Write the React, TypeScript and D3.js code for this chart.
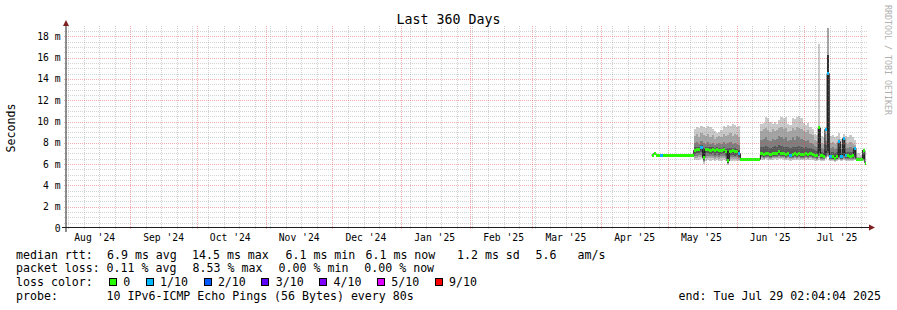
import React from "react";
import * as d3 from "d3";

const WIDTH = 897;
const HEIGHT = 310;
const X0 = 66, X1 = 866, Y0 = 228, Y1 = 28;

const TITLE = "Last 360 Days";
const Y_LABEL = "Seconds";
const WATERMARK = "RRDTOOL / TOBI OETIKER";

const RANGE_START = new Date(2024, 7, 3, 2, 4, 4);
const RANGE_END = new Date(2025, 6, 29, 2, 4, 4);
const Y_TOP = 18.78;
const Y_TICKS = [0, 2, 4, 6, 8, 10, 12, 14, 16, 18];
const FIRST_SAMPLE = new Date(2025, 3, 23, 13, 35, 0);

// daily median rtt (ms), from Apr 23 2025
const median = [
  6.85, 7.0, 6.85, 6.8, 6.8, 6.8, 6.8, 6.8, 6.8, 6.8,
  6.8, 6.8, 6.8, 6.8, 6.8, 6.8, 6.8, 6.8, 6.8,
  7.3, 7.35, 7.4, 7.55, 6.6, 7.4, 7.35, 7.3, 7.4, 7.3, 7.35,
  7.25, 7.3, 7.35, 7.2, 6.3, 7.2, 7.25, 7.15, 7.2, 7.0,
  6.45, 6.45, 6.45, 6.45, 6.45, 6.45, 6.45, 6.45, 6.45,
  6.95, 6.9, 7.0, 6.95, 6.9, 6.95, 7.0, 6.95, 7.15, 7.0,
  6.95, 6.9, 6.95, 6.85, 6.9, 6.95, 6.9, 6.95, 6.9, 6.9,
  6.95, 6.9, 6.95, 6.9, 6.85, 6.8,
  9.4, 6.8, 6.75, 9.26, 14.5,
  6.7, 6.7, 6.55, 6.7, 8.1, 6.7, 8.4, 6.8, 6.8, 6.75,
  6.8, 7.5, 6.45, 6.45, 6.45, 7.3, 6.1,
];

// lost pings out of 10, per day
const lossCount = [
  0, 0, 0, 0, 1, 0, 0, 0, 0, 0,
  0, 0, 0, 0, 0, 0, 0, 0, 0,
  0, 0, 0, 1, 0, 0, 0, 0, 0, 0, 0,
  0, 0, 0, 0, 0, 0, 0, 0, 0, 1,
  0, 0, 0, 0, 0, 0, 0, 0, 0,
  0, 0, 0, 0, 0, 0, 0, 0, 0, 0,
  0, 0, 0, 1, 0, 0, 0, 0, 0, 0,
  0, 0, 0, 0, 0, 0,
  0, 0, 0, 1, 1,
  1, 0, 0, 0, 1, 1, 1, 1, 0, 0,
  0, 1, 0, 0, 0, 0, 0,
];

// smoke segment A: sorted pings, days 19..39
const SEG_A_FIRST = 19;
const p10A = [9.3, 9.5, 9.4, 9.6, 9.5, 9.4, 9.6, 9.5, 9.3, 9.1, 8.9, 9.0, 9.2, 9.6, 9.5, 9.7, 9.6, 9.8, 9.7, 9.5, 9.6];
const p9A = [8.6, 8.8, 8.5, 8.9, 8.7, 8.6, 8.8, 8.5, 8.7, 8.4, 8.5, 8.6, 8.5, 8.8, 8.6, 8.7, 8.9, 8.6, 8.8, 8.7, 8.5];
const p8A = [8.0, 8.1, 7.9, 8.2, 8.0, 7.9, 8.1, 7.9, 8.0, 7.8, 7.9, 8.0, 7.9, 8.1, 7.9, 8.0, 8.1, 7.9, 8.0, 7.9, 7.8];
const p7A = [7.6, 7.65, 7.65, 7.8, 7.5, 7.65, 7.65, 7.6, 7.65, 7.55, 7.6, 7.55, 7.55, 7.6, 7.45, 7.5, 7.5, 7.5, 7.5, 7.45, 7.35];
const p6A = [7.4, 7.45, 7.5, 7.65, 7.2, 7.5, 7.45, 7.4, 7.5, 7.4, 7.45, 7.35, 7.4, 7.45, 7.3, 7.2, 7.3, 7.35, 7.25, 7.3, 7.15];
const p5A = [7.15, 7.2, 7.25, 7.4, 6.5, 7.25, 7.2, 7.15, 7.25, 7.15, 7.2, 7.1, 7.15, 7.2, 7.05, 6.2, 7.05, 7.1, 7.0, 7.05, 6.85];
const p4A = [6.95, 7.0, 7.05, 7.1, 6.4, 7.0, 7.0, 6.95, 7.0, 6.9, 7.0, 6.9, 6.95, 7.0, 6.85, 6.15, 6.85, 6.9, 6.8, 6.85, 6.7];
const p3A = [6.75, 6.8, 6.85, 6.9, 6.3, 6.8, 6.8, 6.75, 6.8, 6.7, 6.8, 6.7, 6.75, 6.8, 6.7, 6.1, 6.7, 6.7, 6.65, 6.7, 6.55];
const p2A = [6.6, 6.6, 6.65, 6.7, 6.2, 6.6, 6.6, 6.55, 6.6, 6.5, 6.6, 6.5, 6.55, 6.6, 6.5, 6.05, 6.5, 6.5, 6.45, 6.5, 6.4];
const p1A = [6.4, 6.35, 6.4, 6.45, 6.0, 6.3, 6.35, 6.3, 6.4, 6.3, 6.35, 6.3, 6.3, 6.35, 6.3, 5.95, 6.3, 6.25, 6.3, 6.3, 6.25];

// smoke segment C: sorted pings, days 49..96
const SEG_C_FIRST = 49;
const p10C = [
  9.8, 9.9, 10.4, 10.3, 10.0, 9.8, 10.0, 9.8, 10.1, 10.4,
  10.3, 10.4, 9.8, 9.7, 10.3, 10.2, 10.4, 10.5, 10.3, 9.9,
  9.7, 9.9, 9.5, 9.3, 8.8, 8.7,
  17.3, 8.6, 8.5, 9.5, 19.0,
  8.6, 8.7, 8.5, 8.6, 8.9, 8.4, 8.8, 8.6, 8.5, 8.7,
  8.5, 8.3, 7.0, 7.0, 6.9, 7.4, 6.3,
];
const p9C = [
  9.1, 9.3, 9.4, 9.2, 9.0, 9.3, 9.1, 9.2, 9.4, 9.5,
  9.3, 9.4, 9.0, 9.1, 9.4, 9.2, 9.5, 9.4, 9.3, 9.1,
  9.0, 9.2, 8.8, 8.7, 8.3, 8.2,
  9.6, 8.0, 7.9, 8.8, 19.0,
  8.0, 8.1, 7.9, 8.0, 8.4, 7.9, 8.5, 8.0, 7.9, 8.1,
  7.9, 7.8, 6.7, 6.7, 6.7, 7.1, 6.25,
];
const p8C = [
  8.3, 8.4, 8.5, 8.3, 8.2, 8.4, 8.3, 8.4, 8.6, 8.5,
  8.4, 8.5, 8.2, 8.3, 8.5, 8.3, 8.6, 8.5, 8.4, 8.3,
  8.2, 8.3, 8.0, 7.9, 7.7, 7.6,
  9.5, 7.5, 7.4, 8.2, 16.2,
  7.5, 7.6, 7.4, 7.5, 8.2, 7.4, 8.3, 7.5, 7.5, 7.6,
  7.4, 7.6, 6.6, 6.6, 6.6, 7.0, 6.2,
];
const p7C = [
  7.6, 7.65, 7.7, 7.6, 7.55, 7.6, 7.7, 7.6, 7.8, 7.7,
  7.65, 7.6, 7.6, 7.55, 7.6, 7.65, 7.6, 7.7, 7.6, 7.55,
  7.6, 7.55, 7.5, 7.45, 7.3, 7.2,
  9.45, 7.1, 7.0, 7.8, 16.2,
  7.1, 7.1, 7.0, 7.1, 8.1, 7.0, 8.3, 7.15, 7.1, 7.1,
  7.1, 7.55, 6.55, 6.55, 6.55, 7.0, 6.2,
];
const p6C = [
  7.05, 7.0, 7.1, 7.05, 7.0, 7.05, 7.1, 7.05, 7.25, 7.1,
  7.05, 7.0, 7.05, 6.95, 7.0, 7.05, 7.0, 7.05, 7.0, 7.0,
  7.05, 7.0, 7.05, 7.0, 6.95, 6.9,
  9.4, 6.9, 6.85, 7.2, 16.2,
  6.8, 6.8, 6.65, 6.8, 7.6, 6.8, 7.8, 6.9, 6.9, 6.85,
  6.9, 7.3, 6.5, 6.5, 6.5, 6.9, 6.15,
];
const p5C = [
  6.85, 6.8, 6.9, 6.85, 6.8, 6.85, 6.9, 6.85, 7.05, 6.9,
  6.85, 6.8, 6.85, 6.75, 6.8, 6.85, 6.8, 6.85, 6.8, 6.8,
  6.85, 6.8, 6.85, 6.8, 6.75, 6.7,
  7.2, 6.7, 6.65, 7.0, 7.2,
  6.6, 6.6, 6.45, 6.6, 6.9, 6.6, 7.0, 6.7, 6.7, 6.65,
  6.7, 6.9, 6.4, 6.4, 6.4, 6.5, 6.1,
];
const p4C = [
  6.75, 6.7, 6.8, 6.75, 6.7, 6.75, 6.8, 6.75, 6.85, 6.8,
  6.75, 6.7, 6.75, 6.65, 6.7, 6.75, 6.7, 6.75, 6.7, 6.7,
  6.75, 6.7, 6.75, 6.7, 6.65, 6.6,
  7.0, 6.6, 6.55, 6.8, 7.0,
  6.5, 6.5, 6.4, 6.5, 6.7, 6.5, 6.75, 6.6, 6.6, 6.55,
  6.6, 6.7, 6.35, 6.35, 6.35, 6.45, 6.05,
];
const p3C = [
  6.65, 6.6, 6.7, 6.65, 6.6, 6.65, 6.7, 6.65, 6.75, 6.7,
  6.65, 6.6, 6.65, 6.55, 6.6, 6.65, 6.6, 6.65, 6.6, 6.6,
  6.65, 6.6, 6.65, 6.6, 6.55, 6.5,
  6.8, 6.5, 6.45, 6.7, 6.9,
  6.45, 6.45, 6.35, 6.45, 6.6, 6.45, 6.6, 6.5, 6.5, 6.45,
  6.5, 6.6, 6.3, 6.3, 6.3, 6.4, 6.0,
];
const p2C = [
  6.55, 6.5, 6.6, 6.55, 6.5, 6.55, 6.6, 6.55, 6.6, 6.6,
  6.55, 6.5, 6.55, 6.45, 6.5, 6.55, 6.5, 6.55, 6.5, 6.5,
  6.55, 6.5, 6.55, 6.5, 6.45, 6.4,
  6.6, 6.4, 6.4, 6.6, 6.8,
  6.4, 6.4, 6.3, 6.4, 6.5, 6.4, 6.5, 6.4, 6.4, 6.4,
  6.4, 6.5, 6.3, 6.3, 6.3, 6.35, 6.0,
];
const p1C = [
  6.4, 6.35, 6.45, 6.4, 6.35, 6.4, 6.45, 6.4, 6.45, 6.45,
  6.4, 6.35, 6.4, 6.3, 6.35, 6.4, 6.35, 6.4, 6.35, 6.35,
  6.4, 6.35, 6.4, 6.35, 6.3, 6.3,
  6.4, 6.3, 6.3, 6.5, 6.7,
  6.3, 6.3, 6.2, 6.3, 6.4, 6.3, 6.4, 6.3, 6.3, 6.3,
  6.3, 6.4, 6.25, 6.25, 6.25, 6.3, 5.95,
];

const LOSS_COLORS = ["#26ff00", "#00b8ff", "#0059ff", "#5e00ff", "#7e00ff", "#dd00ff", "#ff0000"];
const LOSS_LABELS = ["0", "1/10", "2/10", "3/10", "4/10", "5/10", "9/10"];
const SMOKE_COLORS = ["#cacaca", "#a4a4a4", "#7e7e7e", "#585858", "#323232"];

const LEGEND_ROWS: { y: number; items: [number, string][] }[] = [
  { y: 258.5, items: [[16, "median rtt:"], [107, "6.9 ms avg"], [192, "14.5 ms max"], [285.5, "6.1 ms min"], [365.5, "6.1 ms now"], [457, "1.2 ms sd"], [535.5, "5.6"], [577.5, "am/s"]] },
  { y: 272.3, items: [[16, "packet loss:"], [106.6, "0.11 % avg"], [192.6, "8.53 % max"], [278.6, "0.00 % min"], [364.3, "0.00 % now"]] },
  { y: 286, items: [[16, "loss color:"]] },
  { y: 299.8, items: [[16, "probe:"], [106.6, "10 IPv6-ICMP Echo Pings (56 Bytes) every 80s"]] },
];
const END_TEXT = "end: Tue Jul 29 02:04:04 2025";

const FONT = "'DejaVu Sans Mono', monospace";

function lossColor(n: number) {
  if (n >= 9) return LOSS_COLORS[6];
  if (n >= 5) return LOSS_COLORS[5];
  return LOSS_COLORS[n];
}

export default function App() {
  const x = d3.scaleTime().domain([RANGE_START, RANGE_END]).range([X0, X1]);
  const y = d3.scaleLinear().domain([0, Y_TOP]).range([Y0, Y1]);
  const sampleTime = (i: number) => new Date(FIRST_SAMPLE.getTime() + i * 86400000);

  const segments = [
    { first: SEG_A_FIRST, pings: [p1A, p2A, p3A, p4A, p5A, p6A, p7A, p8A, p9A, p10A] },
    { first: SEG_C_FIRST, pings: [p1C, p2C, p3C, p4C, p5C, p6C, p7C, p8C, p9C, p10C] },
  ];

  const smoke: React.ReactNode[] = [];
  for (let k = 0; k < 5; k++) {
    segments.forEach((seg, si) => {
      const n = seg.pings[0].length;
      const lo = seg.pings[k];
      const hi = seg.pings[9 - k];
      const area = d3
        .area<number>()
        .x((i) => x(sampleTime(seg.first + i)))
        .y0((i) => y(lo[Math.min(i, n - 1)]))
        .y1((i) => y(hi[Math.min(i, n - 1)]))
        .curve(d3.curveStepAfter);
      smoke.push(<path key={`s${k}-${si}`} d={area(d3.range(n + 1)) || ""} fill={SMOKE_COLORS[k]} shapeRendering="crispEdges" />);
    });
  }

  const nm = median.length;
  const medLine = d3
    .line<number>()
    .x((i) => x(sampleTime(i)))
    .y((i) => y(median[Math.min(i, nm - 1)]))
    .curve(d3.curveStepAfter);

  const markers = median.map((v, i) => {
    const xa = x(sampleTime(i));
    const xb = x(sampleTime(i + 1));
    return (
      <rect key={`m${i}`} x={xa} y={y(v) - 1.5} width={xb - xa} height={3} fill={lossColor(lossCount[i])} shapeRendering="crispEdges" />
    );
  });

  // grid
  const minorH = d3.range(0.5, Y_TOP, 0.5).filter((v) => v % 2 !== 0);
  const majorH = Y_TICKS.filter((v) => v > 0);
  const months = d3.timeMonth.range(RANGE_START, RANGE_END);
  const weeks = d3.timeSunday.range(RANGE_START, RANGE_END).filter((d) => d.getDate() !== 1);
  const labelMonths = d3
    .timeMonth.range(d3.timeMonth.floor(RANGE_START), RANGE_END)
    .map((m) => ({ m, t: d3.timeDay.offset(m, 15) }))
    .filter((o) => o.t >= RANGE_START && o.t <= RANGE_END);
  const fmtMonth = d3.timeFormat("%b '%y");

  const GRID = "rgba(140,140,140,0.38)";
  const MGRID = "rgba(225,70,70,0.45)";

  const hLine = (v: number, color: string, key: string) => {
    const yy = Math.round(y(v)) + 0.5;
    return <line key={key} x1={X0 - 2} x2={X1 + 2} y1={yy} y2={yy} stroke={color} strokeWidth={1} strokeDasharray="1,1" />;
  };
  const vLine = (t: Date, color: string, key: string) => {
    const xx = Math.round(x(t)) + 0.5;
    return <line key={key} x1={xx} x2={xx} y1={Y1 - 2} y2={Y0 + 2} stroke={color} strokeWidth={1} strokeDasharray="1,1" />;
  };

  // loss color legend layout
  const boxes: React.ReactNode[] = [];
  let bx = 109;
  LOSS_LABELS.forEach((lab, i) => {
    boxes.push(
      <rect key={`b${i}`} x={bx + 0.5} y={278.5} width={7} height={7} fill={LOSS_COLORS[i]} stroke="#000" strokeWidth={1} shapeRendering="crispEdges" />
    );
    boxes.push(
      <text key={`bl${i}`} x={bx + 14.3} y={286} fontSize={11.6} fontFamily={FONT} fill="#000">
        {lab}
      </text>
    );
    bx = bx + 14.3 + lab.length * 7 + 15.5;
  });

  return (
    <svg
      width={WIDTH}
      height={HEIGHT}
      viewBox={`0 0 ${WIDTH} ${HEIGHT}`}
      style={{ position: "absolute", left: 0, top: 0, background: "#fff" }}
    >
      <rect x={0} y={0} width={WIDTH} height={HEIGHT} fill="#fff" />
      <defs>
        <clipPath id="plot">
          <rect x={X0} y={Y1} width={X1 - X0} height={Y0 - Y1} />
        </clipPath>
      </defs>

      <g clipPath="url(#plot)">
        {smoke}
        <path d={medLine(d3.range(nm + 1)) || ""} fill="none" stroke="#1a1a1a" strokeWidth={1} />
        {markers}
      </g>

      {/* grid on top like rrdtool */}
      {minorH.map((v, i) => hLine(v, GRID, `mh${i}`))}
      {weeks.map((t, i) => vLine(t, GRID, `mv${i}`))}
      {majorH.map((v, i) => hLine(v, MGRID, `Mh${i}`))}
      {months.map((t, i) => vLine(t, MGRID, `Mv${i}`))}

      {/* axes */}
      <line x1={X0 - 4} x2={X1 + 4} y1={Y0 - 0.5} y2={Y0 - 0.5} stroke="#1f1f1f" strokeWidth={1} />
      <line x1={X0} x2={X0} y1={Y0 + 4} y2={Y1 - 4} stroke="#1f1f1f" strokeWidth={1} />
      <path d={`M${X0 - 3},${Y1 - 2} L${X0 + 3},${Y1 - 2} L${X0},${Y1 - 8} Z`} fill="#7f1f1f" />
      <path d={`M${X1 + 3},${Y0 - 3.5} L${X1 + 3},${Y0 + 2.5} L${X1 + 9},${Y0 - 0.5} Z`} fill="#7f1f1f" />

      {/* y tick labels */}
      {Y_TICKS.map((v) => (
        <text key={`yt${v}`} x={60.5} y={y(v) + 3.5} textAnchor="end" fontSize={9.7} fontFamily={FONT} fill="#000">
          {v === 0 ? "0" : `${v} m`}
        </text>
      ))}

      {/* x tick labels */}
      {labelMonths.map((o, i) => (
        <text key={`xt${i}`} x={x(o.t)} y={240.5} textAnchor="middle" fontSize={9.7} fontFamily={FONT} fill="#000">
          {fmtMonth(o.m)}
        </text>
      ))}

      {/* title and labels */}
      <text x={448.5} y={24} textAnchor="middle" fontSize={13.3} fontFamily={FONT} fill="#000">
        {TITLE}
      </text>
      <text transform="translate(14.5,128) rotate(-90)" textAnchor="middle" fontSize={11.6} fontFamily={FONT} fill="#000">
        {Y_LABEL}
      </text>
      <text transform="translate(885,60) rotate(90)" textAnchor="middle" fontSize={8.3} fontFamily={FONT} fill="#b0b0b0">
        {WATERMARK}
      </text>

      {/* legend */}
      {LEGEND_ROWS.map((row, ri) =>
        row.items.map(([lx, s], ii) => (
          <text key={`lg${ri}-${ii}`} x={lx} y={row.y} fontSize={11.6} fontFamily={FONT} fill="#000" style={{ whiteSpace: "pre" }}>
            {s}
          </text>
        ))
      )}
      {boxes}
      <text x={881} y={299.8} textAnchor="end" fontSize={11.6} fontFamily={FONT} fill="#000">
        {END_TEXT}
      </text>
    </svg>
  );
}
